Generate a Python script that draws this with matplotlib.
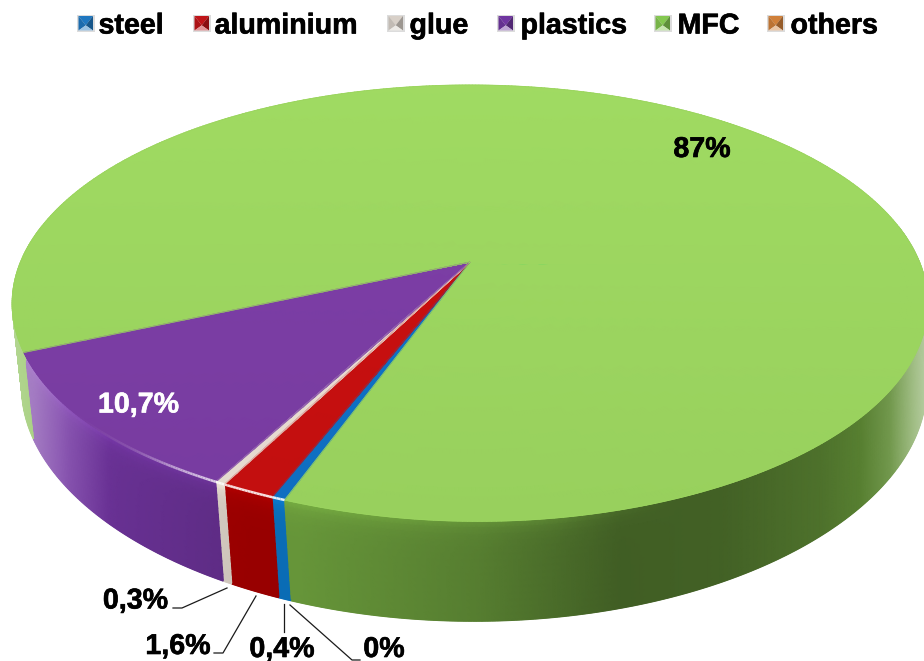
import numpy as np
import matplotlib
matplotlib.use("Agg")
import matplotlib.pyplot as plt
import matplotlib.patheffects as pe
from matplotlib.collections import LineCollection
from matplotlib.colors import to_rgb
from matplotlib.patches import Polygon, Rectangle

# Material shares in percent, in clockwise drawing order
categories = ["steel", "aluminium", "glue", "plastics", "MFC", "others"]
shares = [0.4, 1.6, 0.3, 10.7, 87.0, 0.0]
share_labels = ["0,4%", "1,6%", "0,3%", "10,7%", "87%", "0%"]

top_colors = ["#0f70c4", "#c60f0f", "#e8ddd2", "#7a3da3", "#9bd45f", "#e07b2c"]
wall_colors = ["#0a6cb5", "#980000", "#cbc2b8", "#5c2b82", "#669539", "#b0601f"]
legend_colors = ["#1f77c0", "#c01418", "#d8d0c8", "#6f35a0", "#84c850", "#d0803a"]

FONT = "Liberation Sans"
FONT_SIZE = 20.6
START_ANGLE = 250.2

# Perspective of the disc in pixel space
CX, CY = 470.0, 262.0
AX_X, AX_Y = 449.5, 210.6
PERSP = 0.19


def project_top(theta_deg, r=1.0, flatten=True):
    t = np.radians(theta_deg)
    x, y = r * np.cos(t), r * np.sin(t)
    w = 1 + PERSP * y
    py = CY - AX_Y * y / w
    if flatten:
        # the front rim sits a little higher left of the nearest point
        py = py - 3.5 * r ** 2 * np.exp(-((np.mod(theta_deg, 360) - 245) / 20) ** 2)
    return CX + AX_X * x / w, py


def project_bottom(theta_deg):
    t = np.radians(theta_deg)
    x, y = np.cos(t), np.sin(t)
    w = 1 + PERSP * y + 0.012
    height = 84 + 15 * np.minimum(y, 0) ** 2
    _, ytop = project_top(theta_deg, flatten=False)
    return CX + 4 + AX_X * x / w, ytop + height


def wall_shade(px):
    """Brightness along the wall and the amount of white near the silhouette."""
    bright = np.interp(px, [20, 60, 120, 250, 300, 480, 620, 720, 820, 880, 915],
                       [1.25, 1.25, 1.12, 1.0, 1.0, 0.84, 0.63, 0.65, 0.76, 0.9, 1.0])
    white = np.interp(px, [15, 35, 70, 110, 860, 890, 924],
                      [0.4, 0.34, 0.14, 0.0, 0.0, 0.12, 0.5])
    return bright, white


fig = plt.figure(figsize=(9.24, 6.61), dpi=100, facecolor="white")
ax = fig.add_axes([0, 0, 1, 1])
ax.set_xlim(0, 924)
ax.set_ylim(661, 0)
ax.axis("off")

heavy = [pe.withStroke(linewidth=0.45, foreground="black")]

# Angular extent of each slice, going clockwise from the start angle
spans = []
angle = START_ANGLE
for s in shares:
    sweep = s / sum(shares) * 360
    spans.append((angle - sweep, angle))
    angle -= sweep

# Side wall, only the part that faces the viewer
T_FRACTIONS = np.linspace(0, 1, 16)
for (a0, a1), col in zip(spans, wall_colors):
    if a1 - a0 <= 0:
        continue
    if a0 < 170:
        # the largest slice wraps round the back, so take its two front pieces
        pieces = [(170, a1), (a0 + 360, 370)] if a0 + 360 < 370 else [(170, a1)]
    else:
        pieces = [(a0, a1)]
    for lo, hi in pieces:
        if hi <= lo:
            continue
        th = np.linspace(lo, hi, max(4, int((hi - lo) * 2)))
        xt, yt = project_top(th)
        xb, yb = project_bottom(th)
        X = np.outer(1 - T_FRACTIONS, xt) + np.outer(T_FRACTIONS, xb)
        Y = np.outer(1 - T_FRACTIONS, yt) + np.outer(T_FRACTIONS, yb)
        bright, white = wall_shade(X)
        bevel = 0.16 * np.exp(-T_FRACTIONS / 0.09)[:, None] * np.interp(X, [560, 680], [1, 0])
        base = np.array(to_rgb(col))
        rgb = base[None, None, :] * (bright + bevel)[..., None]
        rgb = rgb + (1 - rgb) * white[..., None]
        ax.pcolormesh(X, Y, np.clip(rgb, 0, 1), shading="gouraud", zorder=1)
        # smooth lower edge of the wall
        pts = np.column_stack([xb, yb])
        segs = np.stack([pts[:-1], pts[1:]], axis=1)
        edge = np.clip(rgb[-1, :-1, :], 0, 1)
        ax.add_collection(LineCollection(segs, colors=edge, linewidths=1.2, zorder=1.1))

# Top face of every slice
RADII = np.linspace(0, 1, 24)
for (a0, a1), col in zip(spans, top_colors):
    if a1 - a0 <= 0:
        continue
    th = np.linspace(a0, a1, max(4, int((a1 - a0) * 2)))
    rr, tt = np.meshgrid(RADII, th, indexing="ij")
    X, Y = project_top(tt, rr)
    base = np.array(to_rgb(col))
    vertical = 1.03 - 0.05 * (Y - 85) / 440
    rgb = base[None, None, :] * vertical[..., None]
    ax.pcolormesh(X, Y, np.clip(rgb, 0, 1), shading="gouraud", zorder=2)
    # antialiased outline of the slice
    xr, yr = project_top(th)
    outline = np.column_stack([np.r_[CX, xr], np.r_[CY, yr]])
    ax.add_patch(Polygon(outline, closed=True, fill=False, edgecolor=col,
                         linewidth=0.5, zorder=2.1))

# Bright highlight along the front rim
for (a0, a1), col in zip(spans, top_colors):
    if a1 - a0 <= 0:
        continue
    th = np.linspace(max(a0, 170), a1, max(4, int((a1 - max(a0, 170)) * 3)))
    xr, yr = project_top(th)
    pts = np.column_stack([xr, yr])
    segs = np.stack([pts[:-1], pts[1:]], axis=1)
    amount = np.interp(xr[:-1], [60, 130, 230, 300, 420, 560], [0, 0.25, 0.85, 0.9, 0.45, 0])
    base = np.array(to_rgb(col))
    colors = np.column_stack([base + (1 - base) * amount[:, None], np.clip(amount * 2, 0, 1)])
    ax.add_collection(LineCollection(segs, colors=colors, linewidths=1.8, zorder=3))

# Legend with bevelled swatches
legend_box_x = [77, 193, 387, 497, 654, 767]
legend_text_x = [98.5, 214.5, 409.5, 520.5, 677.5, 790.5]
BOX = 17.5
BOX_Y = 14.5
for name, col, bx, tx in zip(categories, legend_colors, legend_box_x, legend_text_x):
    c = np.array(to_rgb(col))
    ax.add_patch(Rectangle((bx, BOX_Y), BOX, BOX, facecolor="#dcdcdc", edgecolor="none", zorder=4))
    x0, x1, y0, y1 = bx + 1.5, bx + BOX - 1.5, BOX_Y + 1.5, BOX_Y + BOX - 1.5
    mx, my = bx + BOX / 2, BOX_Y + BOX * 0.62
    faces = [
        ([(x0, y0), (x1, y0), (mx, my)], c),
        ([(x0, y0), (x0, y1), (mx, my)], c * 0.9),
        ([(x1, y0), (x1, y1), (mx, my)], c * 0.72),
        ([(x0, y1), (x1, y1), (mx, my)], c + (1 - c) * 0.55),
    ]
    for verts, fc in faces:
        ax.add_patch(Polygon(verts, closed=True, facecolor=fc, edgecolor="none", zorder=4.1))
    ax.text(tx, 22.5, name, fontfamily=FONT, fontweight="bold", fontsize=FONT_SIZE,
            ha="left", va="center_baseline", color="black", zorder=5, path_effects=heavy)

# Value labels
value_label_pos = {
    "steel": (282, 646), "aluminium": (178, 643), "glue": (135.5, 597.5),
    "plastics": (138.5, 401.5), "MFC": (702, 146), "others": (384, 646),
}
for name, text in zip(categories, share_labels):
    px, py = value_label_pos[name]
    color = "white" if name == "plastics" else "black"
    ax.text(px, py, text, fontfamily=FONT, fontweight="bold", fontsize=FONT_SIZE,
            ha="center", va="center_baseline", color=color, zorder=5,
            path_effects=[pe.withStroke(linewidth=0.45, foreground=color)])

# Leader lines for the narrow slices
leaders = [
    ([173, 182, 227], [608, 608, 588]),
    ([214, 223, 256], [653, 653, 596]),
    ([284, 284], [604, 632]),
    ([290, 352, 360], [605, 660, 660]),
]
for lx, ly in leaders:
    ax.plot(lx, ly, color="#1a1a1a", linewidth=0.9, zorder=4)

fig.savefig("out.png", dpi=100, facecolor="white")
